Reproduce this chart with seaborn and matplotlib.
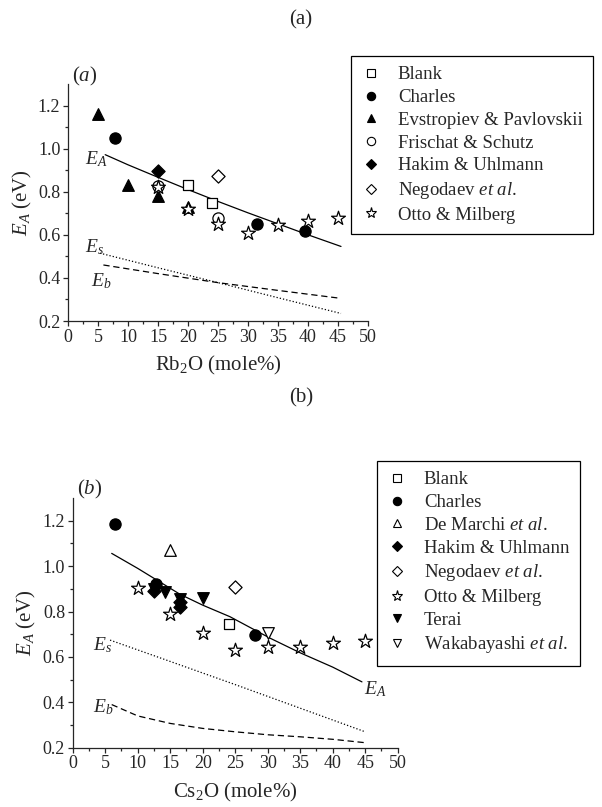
import numpy as np
import pandas as pd
import matplotlib
matplotlib.use("Agg")
import matplotlib.pyplot as plt
import seaborn as sns
from matplotlib.lines import Line2D

# ---- data ----
# panel (a): Rb2O
blank_a_x = [20, 24]
blank_a_y = [0.83, 0.75]
charles_a_x = [7.8, 31.5, 39.5]
charles_a_y = [1.05, 0.65, 0.62]
evstropiev_a_x = [5, 10, 15, 20]
evstropiev_a_y = [1.16, 0.83, 0.78, 0.73]
frischat_a_x = [15, 25]
frischat_a_y = [0.825, 0.68]
hakim_a_x = [15]
hakim_a_y = [0.895]
negodaev_a_x = [25]
negodaev_a_y = [0.875]
otto_a_x = [15, 20, 25, 30, 35, 40, 45]
otto_a_y = [0.82, 0.72, 0.65, 0.61, 0.645, 0.665, 0.68]

ea_a_x = [6.2, 10, 15, 20, 25, 30, 35, 40, 45.5]
ea_a_y = [0.972, 0.925, 0.867, 0.81, 0.755, 0.702, 0.651, 0.6, 0.546]
es_a_x = [5.3, 15, 25, 35, 45.5]
es_a_y = [0.515, 0.447, 0.378, 0.308, 0.235]
eb_a_x = [5.9, 15, 25, 35, 45.5]
eb_a_y = [0.46, 0.42, 0.378, 0.342, 0.305]

# panel (b): Cs2O
blank_b_x = [24]
blank_b_y = [0.745]
charles_b_x = [6.5, 12.8, 28]
charles_b_y = [1.185, 0.92, 0.695]
demarchi_b_x = [15]
demarchi_b_y = [1.07]
hakim_b_x = [12.5, 16.5, 16.5]
hakim_b_y = [0.89, 0.84, 0.82]
negodaev_b_x = [25]
negodaev_b_y = [0.91]
otto_b_x = [10, 15, 20, 25, 30, 35, 40, 45]
otto_b_y = [0.905, 0.79, 0.705, 0.63, 0.645, 0.645, 0.66, 0.67]
terai_b_x = [12.5, 14.2, 16.5, 20]
terai_b_y = [0.90, 0.885, 0.855, 0.86]
wakabayashi_b_x = [30]
wakabayashi_b_y = [0.705]

ea_b_x = [6, 10, 16.5, 20, 24.2, 30.4, 35, 40, 44.5]
ea_b_y = [1.056, 0.99, 0.876, 0.828, 0.777, 0.682, 0.618, 0.555, 0.49]
es_b_x = [5.75, 15, 25, 35, 45]
es_b_y = [0.674, 0.58, 0.478, 0.374, 0.27]
eb_b_x = [6, 10, 15, 20, 25, 30, 35, 40, 45]
eb_b_y = [0.39, 0.34, 0.307, 0.285, 0.27, 0.257, 0.248, 0.237, 0.222]

x_ticks = [0, 5, 10, 15, 20, 25, 30, 35, 40, 45, 50]
y_ticks = [0.2, 0.4, 0.6, 0.8, 1.0, 1.2]

# marker, face colour per source
styles = {
    'Blank': ('s', 'white'),
    'Charles': ('o', 'black'),
    'Evstropiev & Pavlovskii': ('^', 'black'),
    'Frischat & Schutz': ('o', 'white'),
    'Hakim & Uhlmann': ('D', 'black'),
    'Negodaev $et\\ al$.': ('D', 'white'),
    'Otto & Milberg': ('*', 'white'),
    'De Marchi $et\\ al$.': ('^', 'white'),
    'Terai': ('v', 'black'),
    'Wakabayashi $et\\ al$.': ('v', 'white'),
}
sizes = {'s': 55, 'o': 65, '^': 70, 'D': 45, '*': 110, 'v': 70}

series_a = [
    ('Blank', blank_a_x, blank_a_y),
    ('Charles', charles_a_x, charles_a_y),
    ('Evstropiev & Pavlovskii', evstropiev_a_x, evstropiev_a_y),
    ('Frischat & Schutz', frischat_a_x, frischat_a_y),
    ('Hakim & Uhlmann', hakim_a_x, hakim_a_y),
    ('Negodaev $et\\ al$.', negodaev_a_x, negodaev_a_y),
    ('Otto & Milberg', otto_a_x, otto_a_y),
]
series_b = [
    ('Blank', blank_b_x, blank_b_y),
    ('Charles', charles_b_x, charles_b_y),
    ('De Marchi $et\\ al$.', demarchi_b_x, demarchi_b_y),
    ('Hakim & Uhlmann', hakim_b_x, hakim_b_y),
    ('Negodaev $et\\ al$.', negodaev_b_x, negodaev_b_y),
    ('Otto & Milberg', otto_b_x, otto_b_y),
    ('Terai', terai_b_x, terai_b_y),
    ('Wakabayashi $et\\ al$.', wakabayashi_b_x, wakabayashi_b_y),
]

sns.set_style("ticks")
plt.rcParams['font.family'] = ['Liberation Serif', 'DejaVu Serif']
plt.rcParams['mathtext.fontset'] = 'custom'
plt.rcParams['mathtext.rm'] = 'Liberation Serif'
plt.rcParams['mathtext.it'] = 'Liberation Serif:italic'
plt.rcParams['mathtext.bf'] = 'Liberation Serif:bold'

fig = plt.figure(figsize=(6.02, 8.07), dpi=100)
W, H = 602, 807


def px_axes(l, t, r, b):
    return fig.add_axes([l / W, 1 - b / H, (r - l) / W, (b - t) / H])


def draw_panel(ax, series, curves, labels, xlabel, tag, tag_pos, leg_box):
    for name, xs, ys in series:
        m, fc = styles[name]
        df = pd.DataFrame({'x': xs, 'y': ys})
        sns.scatterplot(data=df, x='x', y='y', marker=m, color=fc,
                        edgecolor='black', linewidth=0.9, s=sizes[m],
                        ax=ax, zorder=3, legend=False)
    for xs, ys, ls in curves:
        sns.lineplot(x=xs, y=ys, ax=ax, color='black', linestyle=ls,
                     linewidth=0.9, zorder=2)
    for txt, x, y in labels:
        ax.text(x, y, txt, ha='center', va='center', fontsize=14)

    ax.set_xlim(0, 50)
    ax.set_ylim(0.2, 1.3)
    ax.set_xticks(x_ticks)
    ax.set_yticks(y_ticks)
    ax.set_yticklabels([f'{v:.1f}' for v in y_ticks])
    ax.set_xticks(np.arange(2.5, 50, 5), minor=True)
    ax.set_yticks(np.arange(0.3, 1.3, 0.2), minor=True)
    ax.tick_params(which='major', direction='out', length=3.5, width=0.9,
                   labelsize=13, pad=2)
    ax.tick_params(which='minor', direction='out', length=2.2, width=0.9)
    sns.despine(ax=ax)
    for sp in ax.spines.values():
        sp.set_linewidth(0.9)
    ax.set_xlabel(xlabel, fontsize=15, labelpad=6)
    ax.set_ylabel('$E_A$ (eV)', fontsize=15, labelpad=3)
    ax.text(tag_pos[0], tag_pos[1], tag, transform=ax.transAxes,
            ha='center', va='center', fontsize=15)

    handles = []
    for name, _, _ in series:
        m, fc = styles[name]
        ms = {'*': 8, 'D': 5.2}.get(m, 6)
        handles.append(Line2D([], [], linestyle='none', marker=m, markersize=ms,
                              markerfacecolor=fc, markeredgecolor='black',
                              markeredgewidth=0.8, label=name))
    leg = fig.legend(handles=handles, loc='upper left',
                     bbox_to_anchor=(leg_box[0] / W, 1 - leg_box[1] / H),
                     frameon=True, fancybox=False, framealpha=1,
                     edgecolor='black', fontsize=13.5, borderaxespad=0,
                     handlelength=1.0, handletextpad=0.95, borderpad=0.55,
                     labelspacing=0.3)
    leg.get_frame().set_linewidth(0.9)
    return leg


ax_a = px_axes(68, 84, 368, 321)
draw_panel(ax_a, series_a,
           [(ea_a_x, ea_a_y, '-'), (es_a_x, es_a_y, ':'), (eb_a_x, eb_a_y, (0, (5, 3)))],
           [('$E_A$', 4.7, 0.95), ('$E_s$', 4.5, 0.544), ('$E_b$', 5.5, 0.386)],
           'Rb$_2$O (mole%)', '($a$)', (0.057, 1.03), (351, 56))

ax_b = px_axes(72.7, 498, 397.7, 747.7)
draw_panel(ax_b, series_b,
           [(ea_b_x, ea_b_y, '-'), (es_b_x, es_b_y, ':'), (eb_b_x, eb_b_y, (0, (5, 3)))],
           [('$E_A$', 46.6, 0.46), ('$E_s$', 4.66, 0.652), ('$E_b$', 4.66, 0.379)],
           'Cs$_2$O (mole%)', '($b$)', (0.053, 1.036), (377, 461))

fig.text(301 / W, 1 - 20 / H, '(a)', ha='center', va='center', fontsize=15)
fig.text(301 / W, 1 - 398 / H, '(b)', ha='center', va='center', fontsize=15)

fig.savefig('out.png', dpi=100)
